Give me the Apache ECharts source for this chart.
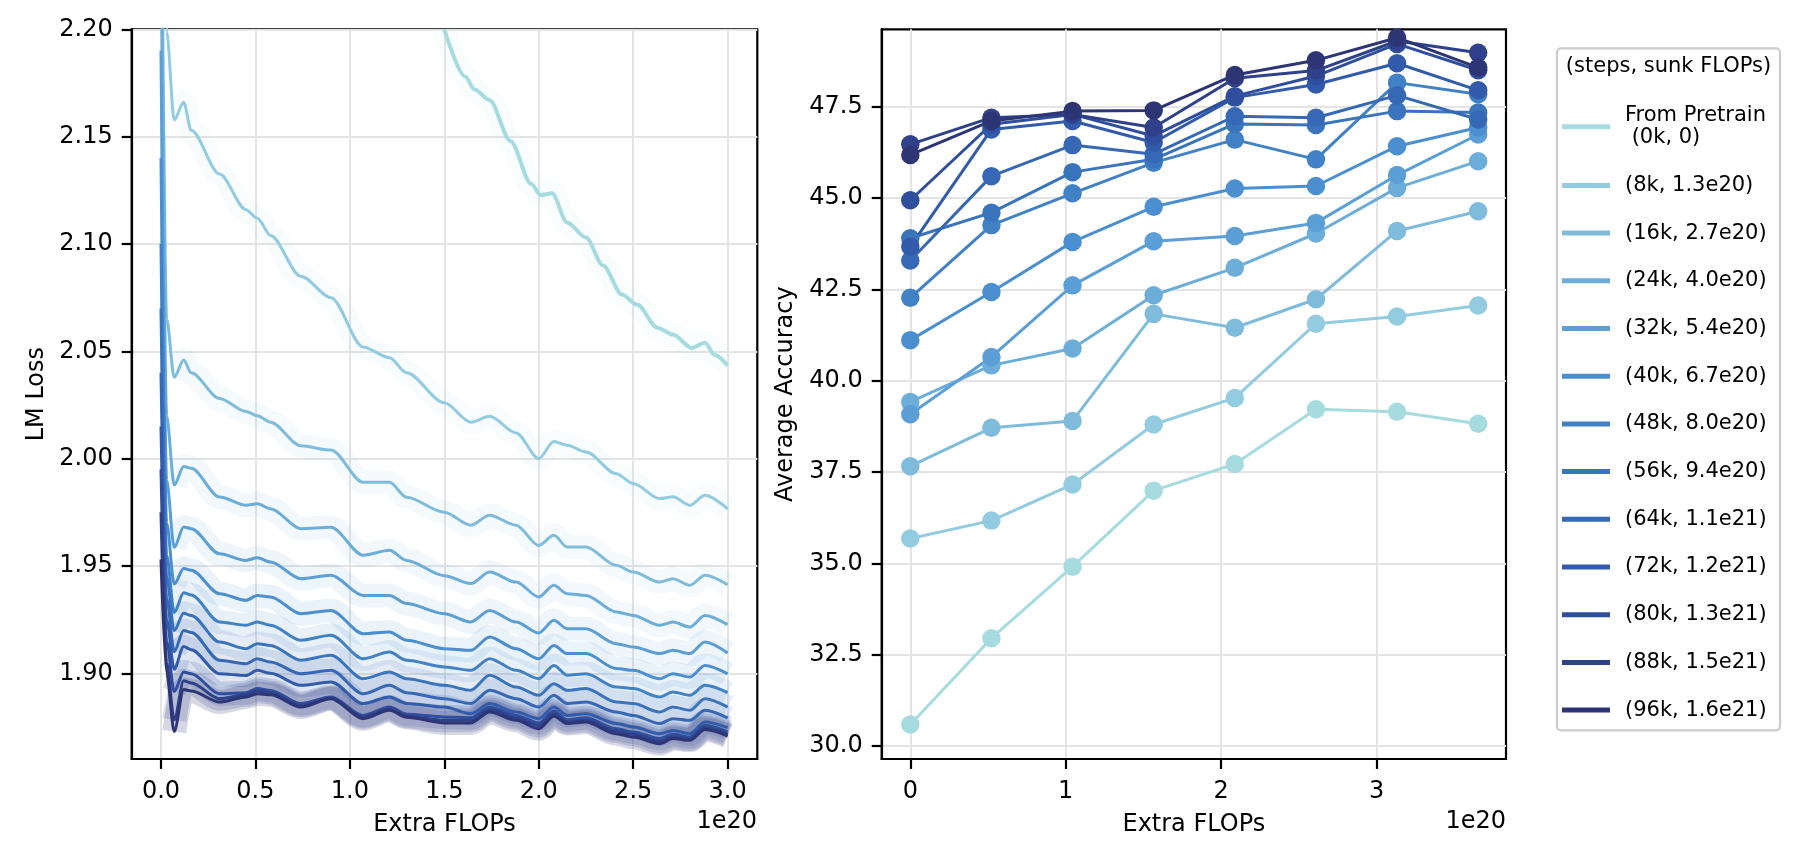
<!DOCTYPE html>
<html>
<head>
<meta charset="utf-8">
<script src="https://cdn.jsdelivr.net/npm/echarts@6/dist/echarts.min.js"></script>
<style>
html, body { margin: 0; padding: 0; background: #fff; }
#main { width: 1800px; height: 859px; }
</style>
</head>
<body>
<div id="main"></div>
<script>
// ---------- data ----------
const seriesNames = [
  'From Pretrain\n (0k, 0)', '(8k, 1.3e20)', '(16k, 2.7e20)', '(24k, 4.0e20)', '(32k, 5.4e20)',
  '(40k, 6.7e20)', '(48k, 8.0e20)', '(56k, 9.4e20)', '(64k, 1.1e21)', '(72k, 1.2e21)',
  '(80k, 1.3e21)', '(88k, 1.5e21)', '(96k, 1.6e21)'
];
const seriesColors = [
  '#a6dbe0', '#93cce0', '#7fbcdc', '#6caed9', '#5c9fd6', '#4c8fd0', '#4181c6',
  '#3a74bd', '#3668b5', '#325bab', '#2f4e9d', '#2e418a', '#2e3575'
];

// left panel: LM loss vs extra FLOPs (x in units of 1e20)
const lossPretrainX = [1.5, 1.61, 1.66, 1.74, 1.85, 1.96, 2.01, 2.07, 2.15, 2.25, 2.34, 2.44, 2.52, 2.63, 2.71, 2.81, 2.88, 2.93, 3.0];
const lossPretrain  = [2.20, 2.178, 2.172, 2.167, 2.148, 2.128, 2.1228, 2.1236, 2.110, 2.103, 2.090, 2.0765, 2.0718, 2.0609, 2.0578, 2.0516, 2.054, 2.0484, 2.0434];

const lossX = [0, 0.03, 0.07, 0.12, 0.16, 0.31, 0.45, 0.51, 0.58, 0.74, 0.9, 1.07, 1.21, 1.3, 1.5,
               1.64, 1.74, 1.88, 2.0, 2.08, 2.15, 2.25, 2.41, 2.5, 2.64, 2.71, 2.8, 2.88, 3.0];
const loss8k  = [2.45, 2.199, 2.1578, 2.166, 2.153, 2.1326, 2.116, 2.112, 2.104, 2.085, 2.075, 2.052, 2.047, 2.040, 2.026,
                 2.017, 2.0197, 2.012, 2.000, 2.008, 2.0062, 2.0031, 1.993, 1.9884, 1.9814, 1.9822, 1.9783, 1.9829, 1.9766];
const loss16k = [2.30, 2.065, 2.0379, 2.046, 2.040, 2.028, 2.022, 2.020, 2.017, 2.006, 2.004, 1.989, 1.989, 1.982, 1.975,
                 1.969, 1.9736, 1.969, 1.9596, 1.9643, 1.9589, 1.9589, 1.9503, 1.9472, 1.9425, 1.9441, 1.941, 1.9457, 1.9413];
const loss24k = [2.25, 2.02, 1.9877, 1.9964, 1.9955, 1.9821, 1.9783, 1.979, 1.9767, 1.9674, 1.968, 1.955, 1.9573, 1.9526, 1.9455,
                 1.9418, 1.9472, 1.9425, 1.9356, 1.941, 1.9371, 1.9363, 1.9286, 1.927, 1.9224, 1.9239, 1.9216, 1.927, 1.9227];
const loss32k = [2.19, 1.99, 1.9586, 1.9682, 1.9674, 1.9557, 1.9526, 1.9539, 1.9519, 1.9441, 1.9457, 1.9363, 1.9363, 1.9325, 1.9278,
                 1.9239, 1.9293, 1.9239, 1.9188, 1.9247, 1.9208, 1.9208, 1.9138, 1.9123, 1.9092, 1.9107, 1.9092, 1.9146, 1.9095];
const loss40k = [2.14, 1.97, 1.9416, 1.9488, 1.948, 1.9371, 1.934, 1.9363, 1.9356, 1.9278, 1.9293, 1.9185, 1.9193, 1.9154, 1.9115,
                 1.9107, 1.9169, 1.9115, 1.9068, 1.913, 1.9092, 1.9092, 1.9022, 1.9014, 1.8975, 1.8998, 1.8983, 1.9037, 1.8998];
const loss48k = [2.10, 1.955, 1.9283, 1.9375, 1.9365, 1.9239, 1.9224, 1.9239, 1.9224, 1.9154, 1.9177, 1.9068, 1.9099, 1.9061, 1.903,
                 1.9014, 1.9068, 1.9014, 1.8975, 1.9037, 1.8991, 1.8998, 1.8936, 1.8929, 1.889, 1.8913, 1.8898, 1.8944, 1.891];
const loss56k = [2.07, 1.945, 1.9199, 1.928, 1.927, 1.9146, 1.9115, 1.9138, 1.913, 1.9061, 1.9084, 1.8975, 1.9006, 1.8975, 1.8944,
                 1.8921, 1.8991, 1.8936, 1.8898, 1.8952, 1.8921, 1.8929, 1.8866, 1.8859, 1.882, 1.8843, 1.8828, 1.8882, 1.8843];
const loss64k = [2.04, 1.935, 1.9101, 1.920, 1.919, 1.9061, 1.9045, 1.9068, 1.9053, 1.8998, 1.9014, 1.8905, 1.8944, 1.891, 1.8882,
                 1.8859, 1.8921, 1.8882, 1.8843, 1.8898, 1.8859, 1.8866, 1.882, 1.8804, 1.8766, 1.8789, 1.8781, 1.8828, 1.8792];
const loss72k = [2.015, 1.925, 1.9019, 1.9125, 1.911, 1.8998, 1.899, 1.9014, 1.900, 1.8944, 1.896, 1.8859, 1.889, 1.886, 1.8843,
                 1.8812, 1.8859, 1.882, 1.8789, 1.8843, 1.8804, 1.8812, 1.8766, 1.875, 1.8719, 1.8734, 1.8719, 1.8773, 1.8747];
const loss80k = [1.995, 1.915, 1.8915, 1.9006, 1.8998, 1.8905, 1.891, 1.8929, 1.892, 1.8859, 1.889, 1.8804, 1.8843, 1.881, 1.8797,
                 1.8793, 1.8843, 1.8804, 1.8769, 1.8825, 1.8784, 1.8793, 1.8742, 1.8727, 1.8696, 1.8716, 1.8703, 1.8758, 1.8727];
const loss88k = [1.975, 1.905, 1.8783, 1.8965, 1.8955, 1.8882, 1.890, 1.8918, 1.891, 1.8851, 1.8885, 1.8797, 1.8835, 1.880, 1.8781,
                 1.8781, 1.8831, 1.8793, 1.8756, 1.8812, 1.8773, 1.8781, 1.8731, 1.8716, 1.8683, 1.8703, 1.8694, 1.8747, 1.8716];
const loss96k = [1.953, 1.900, 1.8729, 1.8925, 1.8918, 1.8866, 1.889, 1.8905, 1.890, 1.8843, 1.8882, 1.8789, 1.8828, 1.8795, 1.8769,
                 1.8769, 1.882, 1.8781, 1.8742, 1.880, 1.8766, 1.8773, 1.8719, 1.8703, 1.8672, 1.8696, 1.8688, 1.8738, 1.8708];

// right panel: average accuracy at each eval point
const accX   = [0, 0.522, 1.044, 1.566, 2.088, 2.61, 3.132, 3.654];
const acc0k  = [30.59, 32.95, 34.91, 36.99, 37.72, 39.22, 39.15, 38.82];
const acc8k  = [35.68, 36.17, 37.16, 38.80, 39.53, 41.56, 41.76, 42.06];
const acc16k = [37.66, 38.71, 38.90, 41.83, 41.45, 42.23, 44.10, 44.64];
const acc24k = [39.42, 40.42, 40.88, 42.34, 43.09, 44.03, 45.28, 46.01];
const acc32k = [39.08, 40.65, 42.61, 43.82, 43.96, 44.32, 45.63, 46.74];
const acc40k = [41.11, 42.43, 43.80, 44.76, 45.26, 45.33, 46.42, 46.93];
const acc48k = [42.27, 44.26, 45.13, 45.97, 46.60, 46.06, 48.16, 47.84];
const acc56k = [43.90, 44.60, 45.71, 46.06, 47.03, 47.00, 47.38, 47.34];
const acc64k = [43.29, 45.60, 46.45, 46.20, 47.24, 47.20, 47.81, 47.15];
const acc72k = [43.67, 46.88, 47.11, 46.52, 47.75, 48.11, 48.69, 47.95];
const acc80k = [44.94, 47.02, 47.29, 46.70, 47.79, 48.34, 49.22, 48.50];
const acc88k = [46.47, 47.20, 47.29, 46.93, 48.28, 48.49, 49.30, 48.98];
const acc96k = [46.18, 47.11, 47.38, 47.40, 48.37, 48.77, 49.39, 48.57];

const lossXTicks = [0, 0.5, 1, 1.5, 2, 2.5, 3];
const lossYTicks = [1.9, 1.95, 2.0, 2.05, 2.1, 2.15, 2.2];
const accXTicks  = [0, 1, 2, 3];
const accYTicks  = [30, 32.5, 35, 37.5, 40, 42.5, 45, 47.5];

// ---------- chart ----------
const FONT = 'DejaVu Sans';
const lossSets = [lossPretrain, loss8k, loss16k, loss24k, loss32k, loss40k, loss48k,
                  loss56k, loss64k, loss72k, loss80k, loss88k, loss96k];
const accSets = [acc0k, acc8k, acc16k, acc24k, acc32k, acc40k, acc48k,
                 acc56k, acc64k, acc72k, acc80k, acc88k, acc96k];

function pairs(xs, ys) { return xs.map((x, i) => [x, ys[i]]); }

const series = [];
// faint wide band standing in for the raw (unsmoothed) loss; skip the initial spike
lossSets.forEach((ys, i) => {
  const pts = i === 0 ? pairs(lossPretrainX, ys) : pairs(lossX, ys).slice(2);
  series.push({
    name: seriesNames[i] + ' raw', type: 'line', xAxisIndex: 0, yAxisIndex: 0,
    data: pts, symbol: 'none', smooth: 0.3, smoothMonotone: 'x', silent: true, z: 1,
    lineStyle: { color: seriesColors[i], width: 24, opacity: 0.05 + 0.012 * i }
  });
});
lossSets.forEach((ys, i) => {
  series.push({
    name: seriesNames[i], type: 'line', xAxisIndex: 0, yAxisIndex: 0,
    data: pairs(i === 0 ? lossPretrainX : lossX, ys),
    symbol: 'none', smooth: 0.3, smoothMonotone: 'x', z: 2,
    itemStyle: { color: seriesColors[i] },
    lineStyle: { color: seriesColors[i], width: i === 0 ? 4 : 3 }
  });
});
accSets.forEach((ys, i) => {
  series.push({
    name: seriesNames[i], type: 'line', xAxisIndex: 1, yAxisIndex: 1,
    data: pairs(accX, ys),
    symbol: 'circle', symbolSize: 18.5, showSymbol: true, z: 2,
    itemStyle: { color: seriesColors[i] },
    lineStyle: { color: seriesColors[i], width: 3 }
  });
});

const tickFont = { fontSize: 24, color: '#000', fontFamily: FONT };

function valueAxis(grid, min, max, ticks, fmt, name, gap, isY) {
  return {
    type: 'value', gridIndex: grid, min: min, max: max,
    name: name, nameLocation: 'middle', nameGap: gap,
    nameTextStyle: { fontSize: 24, color: '#000', fontFamily: FONT },
    axisLine: { show: true, onZero: false, lineStyle: { color: '#000', width: 2.2 } },
    axisTick: { show: true, inside: false, length: 10, customValues: ticks,
                lineStyle: { color: '#000', width: 2.2 } },
    axisLabel: Object.assign({ customValues: ticks, formatter: fmt, margin: isY ? 19 : 21 }, tickFont),
    splitLine: { show: true, lineStyle: { color: '#e4e4e4', width: 2 } }
  };
}

const option = {
  animation: false,
  backgroundColor: '#fff',
  grid: [
    { left: 131.7, top: 29.3, width: 625.6, height: 729.7, show: true,
      borderColor: '#000', borderWidth: 2.2, backgroundColor: 'transparent',
      containLabel: false, outerBoundsMode: 'none' },
    { left: 881.7, top: 29.3, width: 624.3, height: 729.7, show: true,
      borderColor: '#000', borderWidth: 2.2, backgroundColor: 'transparent',
      containLabel: false, outerBoundsMode: 'none' }
  ],
  xAxis: [
    valueAxis(0, -0.155, 3.157, lossXTicks, v => v.toFixed(1), 'Extra FLOPs', 54, false),
    valueAxis(1, -0.184, 3.833, accXTicks, v => String(Math.round(v)), 'Extra FLOPs', 54, false)
  ],
  yAxis: [
    valueAxis(0, 1.8601, 2.2, lossYTicks, v => v.toFixed(2), 'LM Loss', 83, true),
    valueAxis(1, 29.644, 49.62, accYTicks, v => v.toFixed(1), 'Average Accuracy', 84, true)
  ],
  legend: {
    orient: 'vertical', left: 1562, top: 104.7, padding: 0,
    itemGap: 25.7, itemWidth: 48, itemHeight: 5, icon: 'rect',
    selectedMode: false,
    data: seriesNames,
    textStyle: { fontSize: 21, lineHeight: 22, color: '#000', fontFamily: FONT, padding: [0, 0, 0, 10] }
  },
  graphic: [
    { type: 'rect', silent: true, z: 0,
      shape: { x: 1557, y: 48.3, width: 223, height: 682, r: 4 },
      style: { fill: '#fff', stroke: '#cccccc', lineWidth: 2.2 } },
    { type: 'text', x: 1668.5, y: 67, z: 5,
      style: { text: '(steps, sunk FLOPs)', fontSize: 21, fontFamily: FONT, fill: '#000',
               align: 'center', verticalAlign: 'middle' } },
    { type: 'text', x: 757, y: 822, z: 5,
      style: { text: '1e20', fontSize: 24, fontFamily: FONT, fill: '#000',
               align: 'right', verticalAlign: 'middle' } },
    { type: 'text', x: 1506, y: 822, z: 5,
      style: { text: '1e20', fontSize: 24, fontFamily: FONT, fill: '#000',
               align: 'right', verticalAlign: 'middle' } }
  ],
  series: series
};

echarts.init(document.getElementById('main')).setOption(option);
</script>
</body>
</html>
